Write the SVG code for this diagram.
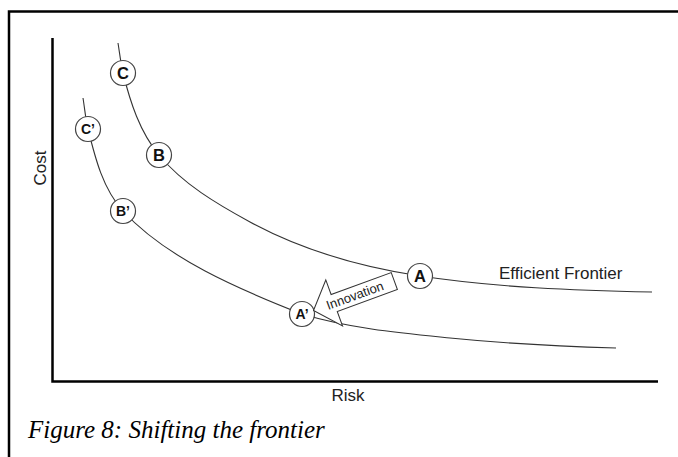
<svg xmlns="http://www.w3.org/2000/svg" width="678" height="457" viewBox="0 0 678 457">
  <style>
    .frame { fill: none; stroke: #000; stroke-width: 2.5; }
    .curve { fill: none; stroke: #333; stroke-width: 1.1; }
    .pt { fill: #fff; stroke: #444; stroke-width: 1.2; }
    .lbl { font-family: "Liberation Sans", Arial, sans-serif; font-weight: bold; font-size: 16.5px; fill: #111; text-anchor: middle; }
    .lbl.p { font-size: 14px; }
    .axis-lbl { font-family: "Liberation Sans", Arial, sans-serif; font-size: 17px; fill: #222; }
    .arrow { fill: #fff; stroke: #333; stroke-width: 1; }
    .cap { font-family: "Liberation Serif", "Times New Roman", serif; font-style: italic; font-size: 25px; fill: #000; }
  </style>
  <rect width="678" height="457" fill="#fff"/>

  <!-- outer frame: top and left edges only -->
  <path class="frame" d="M9,457 V11.5 H678"/>

  <!-- axes -->
  <path class="frame" d="M52.5,38 V381.5 H658"/>
  <text class="axis-lbl" transform="translate(46,168) rotate(-90)" text-anchor="middle">Cost</text>
  <text class="axis-lbl" x="348" y="401" text-anchor="middle">Risk</text>

  <!-- connectors: the two frontier curves -->
  <g id="connectors">
    <path id="frontier" class="curve" d="M118,43 C119.6,52.9 120.6,62.3 123,73 C130.2,102 139.8,131.9 159,155 C183.3,184.3 216.6,203.8 250,222 C302,250.3 361.6,267.1 420,276 C496.2,287.5 575,290.5 652,292"/>
    <path id="frontier-shifted" class="curve" d="M83,98 C84.7,108.4 85.5,118.8 88,129 C95.2,158.1 102.9,188.8 123,211 C166,258 238,289 302,314 C350,328.5 400.2,333 450,338 C504.7,343.5 561,346.4 616,348"/>
  </g>

  <text class="axis-lbl" x="499" y="279">Efficient Frontier</text>

  <!-- points on the original frontier -->
  <g id="node-C">
    <circle class="pt" cx="123" cy="73" r="12.5"/>
    <text class="lbl" x="123" y="79">C</text>
  </g>
  <g id="node-B">
    <circle class="pt" cx="159" cy="155" r="12.5"/>
    <text class="lbl" x="159" y="161">B</text>
  </g>
  <g id="node-A">
    <circle class="pt" cx="420" cy="276" r="12.5"/>
    <text class="lbl" x="420" y="282">A</text>
  </g>

  <!-- points on the shifted frontier -->
  <g id="node-C2">
    <circle class="pt" cx="88" cy="129" r="12.5"/>
    <text class="lbl p" x="88" y="134">C’</text>
  </g>
  <g id="node-B2">
    <circle class="pt" cx="123" cy="211" r="12.5"/>
    <text class="lbl p" x="123" y="216">B’</text>
  </g>
  <g id="node-A2">
    <circle class="pt" cx="302" cy="314" r="12.5"/>
    <text class="lbl p" x="302" y="319">A’</text>
  </g>

  <!-- block arrow labelled Innovation -->
  <g id="innovation" transform="translate(313.5,310.5) rotate(-20)">
    <path class="arrow" d="M0,0 L22,-24.5 L22,-9 L86,-9 L86,9 L22,9 L22,24.5 Z"/>
    <text class="axis-lbl" x="44" y="4.5" text-anchor="middle" style="font-size:13px">Innovation</text>
  </g>

  <text class="cap" x="28" y="438">Figure 8: Shifting the frontier</text>
</svg>
